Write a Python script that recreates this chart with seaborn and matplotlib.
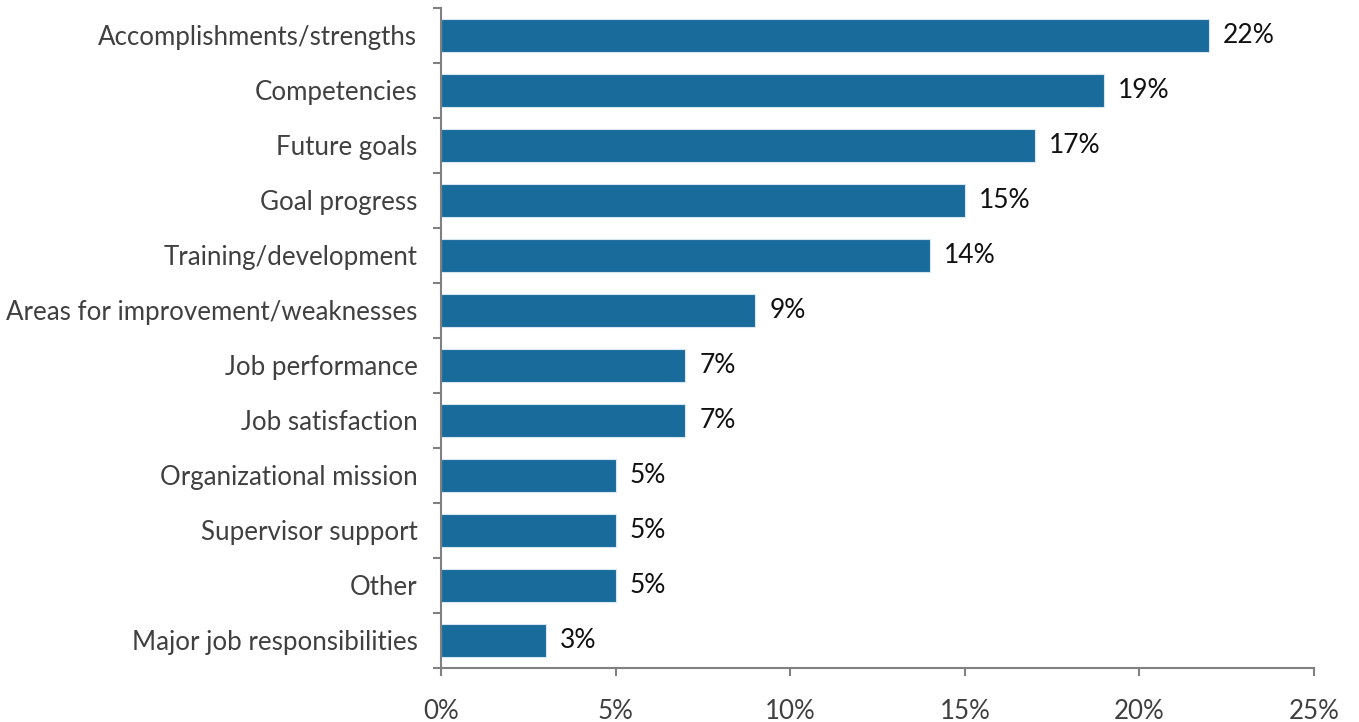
import matplotlib
matplotlib.use("Agg")
import matplotlib.pyplot as plt
import seaborn as sns
import pandas as pd
from matplotlib.ticker import FixedLocator

categories = [
    "Accomplishments/strengths",
    "Competencies",
    "Future goals",
    "Goal progress",
    "Training/development",
    "Areas for improvement/weaknesses",
    "Job performance",
    "Job satisfaction",
    "Organizational mission",
    "Supervisor support",
    "Other",
    "Major job responsibilities",
]
values = [22, 19, 17, 15, 14, 9, 7, 7, 5, 5, 5, 3]
x_ticks = [0, 5, 10, 15, 20, 25]
x_tick_labels = ["0%", "5%", "10%", "15%", "20%", "25%"]

df = pd.DataFrame({"topic": categories, "share": values})

sns.set_theme(style="white")
plt.rcParams["font.family"] = ["Lato", "DejaVu Sans"]

bar_color = "#196b9b"
spine_color = "#808080"
label_color = "#404040"

fig = plt.figure(figsize=(13.59, 7.22), dpi=100)
ax = fig.add_axes([0.3245, 0.0748, 0.6424, 0.9142])

sns.barplot(data=df, x="share", y="topic", orient="h", color=bar_color,
            saturation=1, width=0.6, edgecolor="#d6e6f0", linewidth=0.8, ax=ax)

ax.set_xlim(0, 25)
ax.set_ylim(len(categories) - 0.5, -0.5)
ax.set_xticks(x_ticks)
ax.set_xticklabels(x_tick_labels)
ax.set_xlabel("")
ax.set_ylabel("")

# value labels beside each bar
for i, v in enumerate(values):
    ax.annotate(f"{v}%", xy=(v, i), xytext=(10, 0), textcoords="offset points",
                va="center", ha="left", fontsize=19, color="#111111")

# spines
for side in ["top", "right"]:
    ax.spines[side].set_visible(False)
for side in ["left", "bottom"]:
    ax.spines[side].set_color(spine_color)
    ax.spines[side].set_linewidth(1.5)

# category separators as minor ticks on the y axis
ax.yaxis.set_minor_locator(FixedLocator([i - 0.5 for i in range(len(categories) + 1)]))
ax.tick_params(axis="y", which="major", length=0, pad=17, labelsize=18.6, labelcolor=label_color)
ax.tick_params(axis="y", which="minor", length=6, width=1.5, color=spine_color, direction="out", left=True)
ax.tick_params(axis="x", which="major", length=6, width=1.5, color=spine_color, direction="out",
               bottom=True, pad=16, labelsize=18.6, labelcolor=label_color)

fig.savefig("out.png", dpi=100)
